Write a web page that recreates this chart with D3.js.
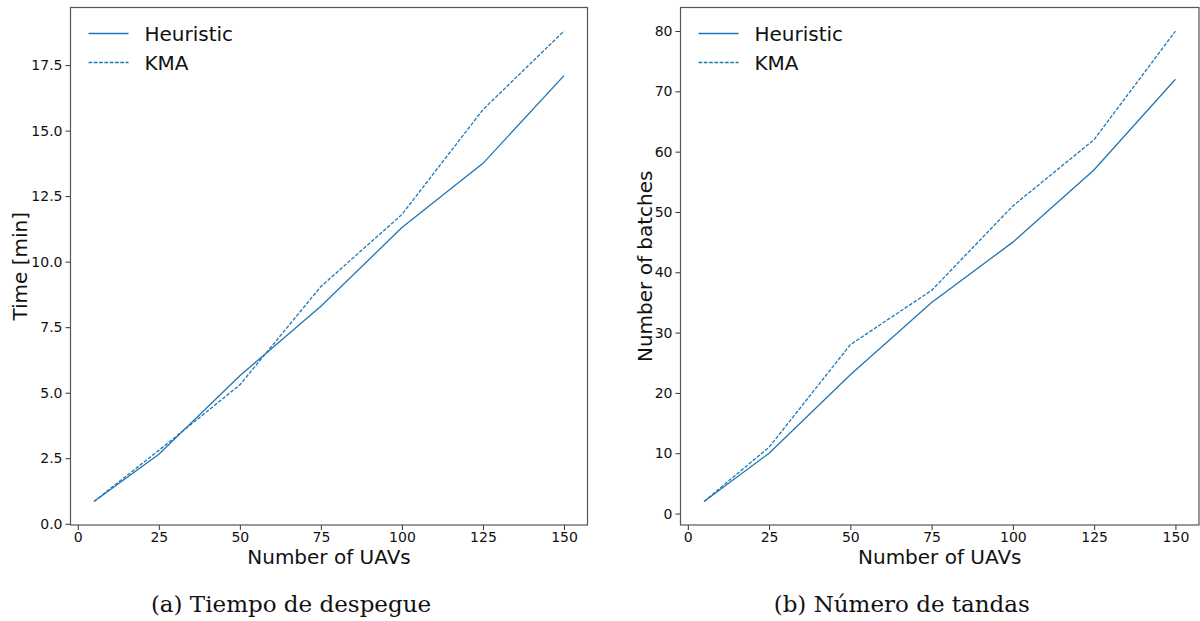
<!DOCTYPE html>
<html>
<head>
<meta charset="utf-8">
<script src="https://cdn.jsdelivr.net/npm/d3@7"></script>
<style>
  body { margin: 0; background: #fff; }
  svg { display: block; }
</style>
</head>
<body>
<svg id="chart" width="1200" height="621"></svg>
<script>
// Number of UAVs in each scenario
const uavCounts = [5, 25, 50, 75, 100, 125, 150];

// Take-off time [min]
const timeHeuristic = [0.85, 2.65, 5.65, 8.3, 11.3, 13.75, 17.1];
const timeKMA       = [0.85, 2.8, 5.3, 9.05, 11.8, 15.8, 18.8];

// Number of batches
const batchesHeuristic = [2, 10, 23, 35, 45, 57, 72];
const batchesKMA       = [2, 11, 28, 37, 51, 62, 80];

const xTicks = [0, 25, 50, 75, 100, 125, 150];
const timeTicks = [0, 2.5, 5, 7.5, 10, 12.5, 15, 17.5];
const batchTicks = [0, 10, 20, 30, 40, 50, 60, 70, 80];

const seriesNames = ["Heuristic", "KMA"];

const svg = d3.select("#chart");
const blue = "#1f77b4";

function panel(opts) {
  const { left, right, top, bottom, heur, kma, yTicks, yFmt, yLabel, yLabelX, caption } = opts;
  const g = svg.append("g");

  // matplotlib-style 5% margins around the data
  const xExt = d3.extent(uavCounts);
  const xPad = (xExt[1] - xExt[0]) * 0.05;
  const allY = heur.concat(kma);
  const yExt = d3.extent(allY);
  const yPad = (yExt[1] - yExt[0]) * 0.05;

  const x = d3.scaleLinear().domain([xExt[0] - xPad, xExt[1] + xPad]).range([left, right]);
  const y = d3.scaleLinear().domain([yExt[0] - yPad, yExt[1] + yPad]).range([bottom, top]);

  // axes
  const xAxis = g.append("g")
    .attr("transform", `translate(0,${bottom})`)
    .call(d3.axisBottom(x).tickValues(xTicks).tickSize(5).tickPadding(2).tickFormat(d3.format("d")));
  const yAxis = g.append("g")
    .attr("transform", `translate(${left},0)`)
    .call(d3.axisLeft(y).tickValues(yTicks).tickSize(5).tickPadding(3).tickFormat(yFmt));
  [xAxis, yAxis].forEach(a => {
    a.select(".domain").remove();
    a.selectAll(".tick line").attr("stroke", "#333").attr("stroke-width", 1);
    a.selectAll(".tick text")
      .attr("font-family", "DejaVu Sans")
      .attr("font-size", 14)
      .attr("fill", "#111");
  });

  // frame
  g.append("rect")
    .attr("x", left).attr("y", top)
    .attr("width", right - left).attr("height", bottom - top)
    .attr("fill", "none").attr("stroke", "#555").attr("stroke-width", 1.2);

  const line = d3.line().x((d, i) => x(uavCounts[i])).y(d => y(d));

  g.append("path").datum(heur)
    .attr("d", line).attr("fill", "none")
    .attr("stroke", blue).attr("stroke-width", 1.3);
  g.append("path").datum(kma)
    .attr("d", line).attr("fill", "none")
    .attr("stroke", blue).attr("stroke-width", 1.3)
    .attr("stroke-dasharray", "3.7,1.6");

  // legend
  const lg = g.append("g").attr("transform", `translate(${left + 18},${top + 26})`);
  seriesNames.forEach((name, i) => {
    const row = lg.append("g").attr("transform", `translate(0,${i * 29})`);
    row.append("line").attr("x1", 0).attr("x2", 40).attr("y1", 0).attr("y2", 0)
      .attr("stroke", blue).attr("stroke-width", 1.3)
      .attr("stroke-dasharray", i === 1 ? "3.7,1.6" : null);
    row.append("text").attr("x", 56).attr("y", 7)
      .attr("font-family", "DejaVu Sans").attr("font-size", 20).attr("fill", "#111")
      .text(name);
  });

  // axis labels
  g.append("text")
    .attr("x", (left + right) / 2).attr("y", bottom + 39)
    .attr("text-anchor", "middle")
    .attr("font-family", "DejaVu Sans").attr("font-size", 20).attr("fill", "#111")
    .text("Number of UAVs");
  g.append("text")
    .attr("transform", `translate(${yLabelX},${(top + bottom) / 2}) rotate(-90)`)
    .attr("text-anchor", "middle")
    .attr("font-family", "DejaVu Sans").attr("font-size", 20).attr("fill", "#111")
    .text(yLabel);

  // sub-figure caption
  g.append("text")
    .attr("x", (left + right) / 2 - 38).attr("y", 612)
    .attr("text-anchor", "middle")
    .attr("font-family", "DejaVu Serif").attr("font-size", 23).attr("fill", "#111")
    .text(caption);
}

panel({
  left: 70.5, right: 587.5, top: 7.5, bottom: 525,
  heur: timeHeuristic, kma: timeKMA,
  yTicks: timeTicks, yFmt: d3.format(".1f"),
  yLabel: "Time [min]", yLabelX: 27,
  caption: "(a) Tiempo de despegue"
});

panel({
  left: 680.5, right: 1199, top: 7.5, bottom: 525,
  heur: batchesHeuristic, kma: batchesKMA,
  yTicks: batchTicks, yFmt: d3.format("d"),
  yLabel: "Number of batches", yLabelX: 652,
  caption: "(b) Número de tandas"
});
</script>
</body>
</html>
